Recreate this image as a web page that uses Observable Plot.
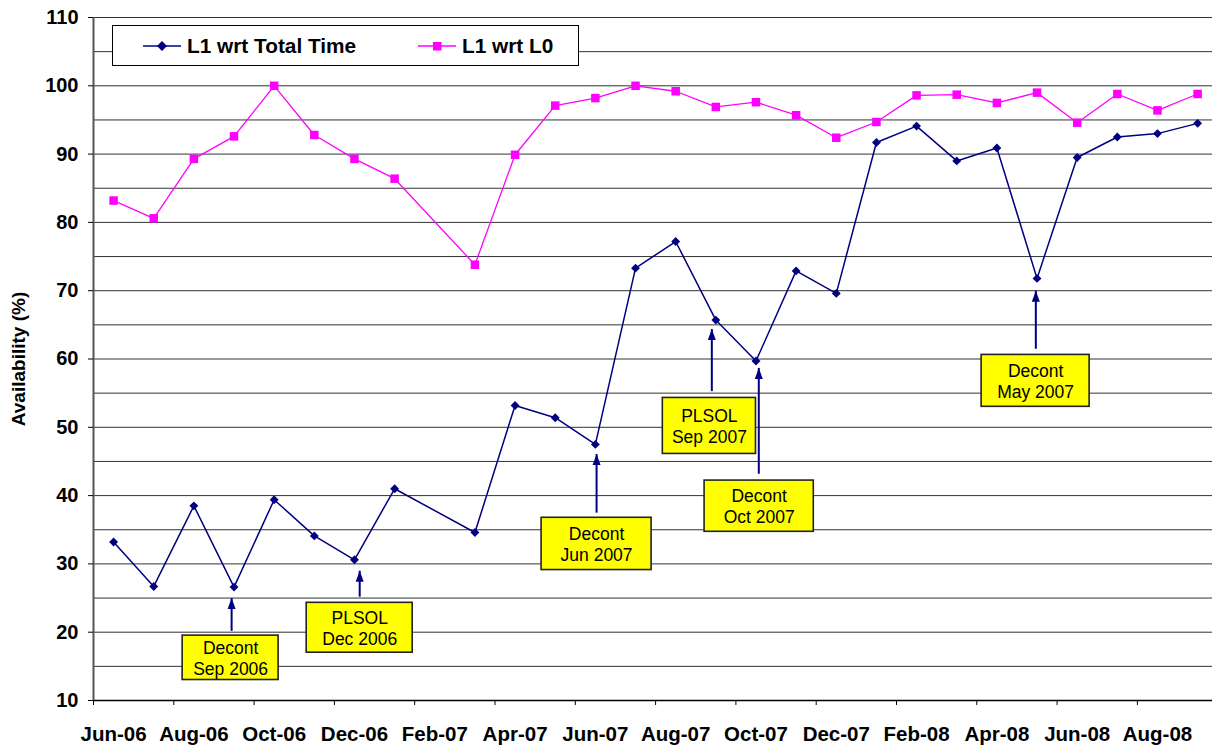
<!DOCTYPE html>
<html>
<head>
<meta charset="utf-8">
<script src="https://cdn.jsdelivr.net/npm/d3@7"></script>
<script src="https://cdn.jsdelivr.net/npm/@observablehq/plot@0.6"></script>
<style>
  html, body { margin: 0; padding: 0; background: #fff; }
  #chart { position: relative; width: 1212px; height: 746px; font-family: "Liberation Sans", Arial, sans-serif; }
  #legend { position: absolute; left: 112px; top: 25px; width: 465px; height: 39px; border: 1.5px solid #000; background: #fff; }
  .item { position: absolute; top: 0; height: 39px; display: flex; align-items: center; font-weight: bold; font-size: 20.8px; color: #000; white-space: nowrap; }
  .item svg { margin-right: 6px; }
</style>
</head>
<body>
<div id="chart"></div>
<script>
// ---- data ----
const months = ["Jun-06","Jul-06","Aug-06","Sep-06","Oct-06","Nov-06","Dec-06","Jan-07","Feb-07","Mar-07",
  "Apr-07","May-07","Jun-07","Jul-07","Aug-07","Sep-07","Oct-07","Nov-07","Dec-07","Jan-08",
  "Feb-08","Mar-08","Apr-08","May-08","Jun-08","Jul-08","Aug-08","Sep-08"];
const seriesNames = ["L1 wrt Total Time", "L1 wrt L0"];
const totalTime = [33.2,26.7,38.5,26.6,39.4,34.1,30.6,41.0,null,34.6,
  53.2,51.4,47.5,73.3,77.2,65.7,59.7,72.9,69.6,91.7,
  94.1,89.0,90.9,71.8,89.5,92.5,93.0,94.5];
const wrtL0 = [83.2,80.6,89.3,92.6,100,92.8,89.3,86.4,null,73.8,
  89.9,97.1,98.2,100,99.2,96.9,97.6,95.7,92.4,94.7,
  98.6,98.7,97.5,99.0,94.6,98.8,96.4,98.8];
const yTicks = [10,20,30,40,50,60,70,80,90,100,110];

// annotations (data coordinates: category index, availability %)
const noteText = ["Decont\nSep 2006","PLSOL\nDec 2006","Decont\nJun 2007","PLSOL\nSep 2007","Decont\nOct 2007","Decont\nMay 2007"];
const noteArrowX = [2.94, 6.13, 12.03, 14.9, 16.07, 22.97];
const noteArrowTip = [25.0, 29.0, 46.1, 64.4, 58.7, 70.0];
const noteArrowBase = [20.2, 25.2, 37.5, 55.3, 43.2, 61.5];
const noteBoxX1 = [1.72, 4.81, 10.66, 13.68, 14.72, 21.62];
const noteBoxX2 = [4.11, 7.45, 13.40, 16.00, 17.44, 24.31];
const noteBoxTop = [19.5, 24.3, 36.75, 54.3, 42.2, 60.6];
const noteBoxBottom = [13.0, 17.0, 29.1, 46.1, 34.7, 53.0];

// ---- tables ----
const rows = months.map((m, i) => ({i, m, total: totalTime[i], l0: wrtL0[i]}));
const notes = noteText.map((t, k) => ({
  t, ax: noteArrowX[k], tip: noteArrowTip[k], base: noteArrowBase[k],
  x1: noteBoxX1[k], x2: noteBoxX2[k], y1: noteBoxTop[k], y2: noteBoxBottom[k],
  cx: (noteBoxX1[k] + noteBoxX2[k]) / 2, cy: (noteBoxTop[k] + noteBoxBottom[k]) / 2
}));

const NAVY = "#000080", PINK = "#FF00FF";
const head = {draw(ctx) { ctx.moveTo(0, 0); ctx.lineTo(4, 11); ctx.lineTo(-4, 11); ctx.closePath(); }};

const labelIdx = d3.range(0, months.length, 2);
const boundaryIdx = d3.range(-0.5, months.length - 1, 2);
const gridVals = d3.range(10, 111, 5);

const plot = Plot.plot({
  width: 1212, height: 746,
  marginTop: 17, marginBottom: 46, marginLeft: 93, marginRight: 0,
  style: {fontFamily: '"Liberation Sans", Arial, sans-serif', fontSize: "20px", fontWeight: "bold", color: "#000", background: "#fff", overflow: "visible"},
  x: {domain: [-0.5, months.length - 0.5], range: [93, 93 + 40.15 * months.length]},
  y: {domain: [10, 110]},
  marks: [
    Plot.ruleY(gridVals, {stroke: "#333", strokeWidth: 1}),
    Plot.ruleY([10], {stroke: "#000", strokeWidth: 1.5}),
    Plot.ruleX([-0.5], {stroke: "#555", strokeWidth: 2}),
    Plot.axisY(yTicks, {tickSize: 5, tickPadding: 10, label: null, fontSize: 20, fontWeight: "bold"}),
    Plot.axisX(boundaryIdx, {tickSize: 5, tickFormat: () => "", label: null}),
    Plot.axisX(labelIdx, {tickSize: 0, tickPadding: 26, tickFormat: i => months[i], label: null, fontSize: 20.5, fontWeight: "bold"}),
    Plot.text(["Availability (%)"], {frameAnchor: "left", textAnchor: "middle", rotate: -90, dx: -75, fontSize: 19, fontWeight: "bold"}),
    Plot.line(rows.filter(d => d.l0 != null), {x: "i", y: "l0", stroke: PINK, strokeWidth: 1.3}),
    Plot.dot(rows.filter(d => d.l0 != null), {x: "i", y: "l0", symbol: "square", r: 4.8, fill: PINK, stroke: "none"}),
    Plot.line(rows.filter(d => d.total != null), {x: "i", y: "total", stroke: NAVY, strokeWidth: 1.5}),
    Plot.dot(rows.filter(d => d.total != null), {x: "i", y: "total", symbol: "diamond2", r: 4, fill: NAVY, stroke: "none"}),
    Plot.link(notes, {x1: "ax", x2: "ax", y1: "base", y2: "tip", stroke: NAVY, strokeWidth: 2}),
    Plot.dot(notes, {x: "ax", y: "tip", symbol: head, fill: NAVY, stroke: "none"}),
    Plot.rect(notes, {x1: "x1", x2: "x2", y1: "y1", y2: "y2", fill: "#FFFF00", stroke: "#222", strokeWidth: 1.6}),
    Plot.text(notes, {x: "cx", y: "cy", text: "t", fontSize: 17.5, fontWeight: "normal", lineHeight: 1.2, fill: "#000"})
  ]
});

const chart = document.getElementById("chart");
chart.appendChild(plot);

// legend overlay
const legend = document.createElement("div");
legend.id = "legend";
const legendItems = [
  {name: seriesNames[0], color: NAVY, shape: "diamond", left: 30},
  {name: seriesNames[1], color: PINK, shape: "square", left: 305}
];
for (const it of legendItems) {
  const div = document.createElement("div");
  div.className = "item";
  div.style.left = it.left + "px";
  const marker = it.shape === "diamond"
    ? `<path d="M19,1 L24,6 L19,11 L14,6 Z" fill="${it.color}"/>`
    : `<rect x="15" y="2" width="8.5" height="8.5" fill="${it.color}"/>`;
  div.innerHTML = `<svg width="38" height="12"><line x1="0" y1="6" x2="38" y2="6" stroke="${it.color}" stroke-width="1.5"/>${marker}</svg><span>${it.name}</span>`;
  legend.appendChild(div);
}
chart.appendChild(legend);
</script>
</body>
</html>
